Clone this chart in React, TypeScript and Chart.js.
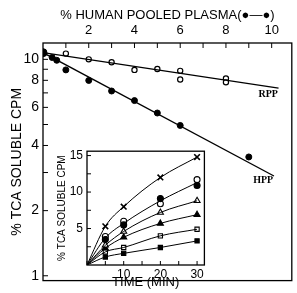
import React, { useEffect, useRef } from "react";
import { Chart, registerables } from "chart.js";
Chart.register(...registerables);

// ---- main plot data ----
const plasmaTicks = [1, 2, 3, 4, 5, 6, 7, 8, 9, 10];
const plasmaLabels = [2, 4, 6, 8, 10];
const cpmTicks = [1, 2, 3, 4, 5, 6, 7, 8, 9, 10];
const cpmLabels = [1, 2, 4, 6, 8, 10];

const rppX = [0, 1, 2, 3, 4, 5, 6, 6, 8, 8];
const rppY = [10.74, 10.63, 10.0, 9.7, 8.94, 9.03, 8.85, 8.07, 8.16, 7.83];
const hppX = [0, 0.4, 0.6, 1, 2, 3, 4, 5, 6, 9];
const hppY = [10.74, 10.2, 9.9, 8.94, 7.99, 7.14, 6.45, 5.65, 4.95, 3.54];
const rppFitX = [0, 10.3];
const rppFitY = [10.74, 7.37];
const hppFitX = [0, 10.1];
const hppFitY = [10.74, 2.89];

const seriesNames = ["RPP", "HPP"];
const seriesNameX = [9.85, 9.63];
const seriesNameY = [6.86, 2.77];

// ---- inset data ----
const timeMin = [0, 5, 10, 20, 30];
const crossVals = [0, 5.3, 8.0, 12.0, 14.8];
const openCircleVals = [0, 3.9, 6.0, 8.4, 11.7];
const filledCircleVals = [0, 3.5, 5.5, 9.1, 10.9];
const circleCurve = [0, 3.7, 5.7, 8.8, 11.3];
const openTriVals = [0, 2.7, 4.6, 7.2, 8.8];
const filledTriVals = [0, 2.3, 3.8, 5.7, 6.9];
const openSqVals = [0, 1.8, 2.4, 4.0, 4.9];
const filledSqVals = [0, 1.1, 1.6, 2.4, 3.3];
const timeTicks = [0, 5, 10, 15, 20, 25, 30];
const timeLabels = [10, 20, 30];
const insetTicks = [2.5, 5, 7.5, 10, 12.5, 15];
const insetLabels = [5, 10, 15];

const FONT = "'Liberation Sans', Arial, sans-serif";
const SERIF = "'Liberation Serif', 'Times New Roman', serif";

const zip = (xs: number[], ys: number[]) => xs.map((x, i) => ({ x, y: ys[i] }));

function frameAndTicks(len: number) {
  return {
    id: "frameAndTicks",
    afterDatasetsDraw(chart: any) {
      const ctx = chart.ctx;
      const a = chart.chartArea;
      ctx.save();
      ctx.strokeStyle = "#000";
      ctx.lineWidth = 1.3;
      ctx.strokeRect(a.left, a.top, a.right - a.left, a.bottom - a.top);
      ctx.lineWidth = 1;
      Object.values(chart.scales).forEach((s: any) => {
        s.ticks.forEach((t: any) => {
          const p = s.getPixelForValue(t.value);
          ctx.beginPath();
          if (s.position === "top") {
            ctx.moveTo(p, a.top);
            ctx.lineTo(p, a.top + len);
          } else if (s.position === "bottom") {
            ctx.moveTo(p, a.bottom);
            ctx.lineTo(p, a.bottom - len);
          } else {
            ctx.moveTo(a.left, p);
            ctx.lineTo(a.left + len, p);
          }
          ctx.stroke();
        });
      });
      ctx.restore();
    },
  };
}

const seriesLabelPlugin = {
  id: "seriesLabels",
  afterDatasetsDraw(chart: any) {
    const ctx = chart.ctx;
    const xs = chart.scales.x;
    const ys = chart.scales.y;
    ctx.save();
    ctx.fillStyle = "#000";
    ctx.font = "bold 10px " + SERIF;
    ctx.textAlign = "center";
    ctx.textBaseline = "middle";
    seriesNames.forEach((n, i) => {
      ctx.fillText(n, xs.getPixelForValue(seriesNameX[i]), ys.getPixelForValue(seriesNameY[i]));
    });
    ctx.restore();
  },
};

const whiteArea = {
  id: "whiteArea",
  beforeDatasetsDraw(chart: any) {
    const a = chart.chartArea;
    chart.ctx.save();
    chart.ctx.fillStyle = "#fff";
    chart.ctx.fillRect(a.left, a.top, a.right - a.left, a.bottom - a.top);
    chart.ctx.restore();
  },
};

export default function App() {
  const mainRef = useRef<HTMLCanvasElement>(null);
  const insetRef = useRef<HTMLCanvasElement>(null);

  useEffect(() => {
    const main = new Chart(mainRef.current!, {
      type: "scatter",
      data: {
        datasets: [
          {
            type: "line",
            data: zip(rppFitX, rppFitY),
            borderColor: "#000",
            borderWidth: 1.3,
            pointRadius: 0,
            showLine: true,
          } as any,
          {
            type: "line",
            data: zip(hppFitX, hppFitY),
            borderColor: "#000",
            borderWidth: 1.3,
            pointRadius: 0,
            showLine: true,
          } as any,
          {
            data: zip(hppX, hppY),
            pointStyle: "circle",
            pointRadius: hppX.map((x) => (x === 0 ? 4 : 3)),
            backgroundColor: "#000",
            borderColor: "#000",
            borderWidth: 1,
          },
          {
            data: zip(rppX.slice(1), rppY.slice(1)),
            pointStyle: "circle",
            pointRadius: 2.6,
            backgroundColor: "#fff",
            borderColor: "#000",
            borderWidth: 1.2,
          },
        ],
      },
      options: {
        animation: false,
        responsive: false,
        events: [],
        layout: { padding: { left: 0, top: 0, right: 1, bottom: 2 } },
        plugins: { legend: { display: false }, tooltip: { enabled: false } },
        scales: {
          x: {
            type: "linear",
            position: "top",
            min: 0,
            max: 10.88,
            afterBuildTicks: (s: any) => {
              s.ticks = plasmaTicks.map((v) => ({ value: v }));
            },
            afterFit: (s: any) => {
              s.height = 43;
            },
            grid: { display: false, drawTicks: false },
            border: { display: false },
            ticks: {
              autoSkip: false,
              maxRotation: 0,
              padding: 5,
              color: "#000",
              font: { size: 13, family: FONT },
              callback: (v: any) => (plasmaLabels.includes(Number(v)) ? String(v) : ""),
            },
            title: {
              display: true,
              text: "% HUMAN POOLED PLASMA(●—●)",
              color: "#000",
              font: { size: 13, family: FONT },
              padding: { top: 8, bottom: 0 },
            },
          },
          y: {
            type: "logarithmic",
            min: 0.95,
            max: 11.9,
            afterBuildTicks: (s: any) => {
              s.ticks = cpmTicks.map((v) => ({ value: v }));
            },
            afterFit: (s: any) => {
              s.width = 43;
            },
            grid: { display: false, drawTicks: false },
            border: { display: false },
            ticks: {
              autoSkip: false,
              padding: 4,
              color: "#000",
              font: { size: 14, family: FONT },
              callback: (v: any) => (cpmLabels.includes(Number(v)) ? String(v) : ""),
            },
            title: {
              display: true,
              text: "% TCA SOLUBLE CPM",
              color: "#000",
              font: { size: 14, family: FONT },
              padding: { top: 9, bottom: 0 },
            },
          },
        },
      },
      plugins: [frameAndTicks(5), seriesLabelPlugin],
    } as any);

    const curve = (vals: number[]) => ({
      type: "line",
      data: zip(timeMin, vals),
      borderColor: "#000",
      borderWidth: 1,
      pointRadius: 0,
      showLine: true,
      cubicInterpolationMode: "monotone",
    });
    const marks = (vals: number[], style: string, filled: boolean, r = 3) => ({
      data: zip(timeMin.slice(1), vals.slice(1)),
      pointStyle: style,
      pointRadius: r,
      backgroundColor: filled ? "#000" : "#fff",
      borderColor: "#000",
      borderWidth: style === "crossRot" ? 1.6 : 1.1,
    });

    const inset = new Chart(insetRef.current!, {
      type: "scatter",
      data: {
        datasets: [
          curve(crossVals),
          curve(circleCurve),
          curve(openTriVals),
          curve(filledTriVals),
          curve(openSqVals),
          curve(filledSqVals),
          marks(crossVals, "crossRot", true, 4),
          marks(filledCircleVals, "circle", true),
          marks(openCircleVals, "circle", false),
          marks(openTriVals, "triangle", false, 3.5),
          marks(filledTriVals, "triangle", true, 3.5),
          marks(openSqVals, "rect", false, 3),
          marks(filledSqVals, "rect", true, 3),
        ] as any,
      },
      options: {
        animation: false,
        responsive: false,
        events: [],
        layout: { padding: { left: 0, top: 8, right: 5, bottom: 0 } },
        plugins: { legend: { display: false }, tooltip: { enabled: false } },
        scales: {
          x: {
            type: "linear",
            position: "bottom",
            min: 0,
            max: 32,
            afterBuildTicks: (s: any) => {
              s.ticks = timeTicks.map((v) => ({ value: v }));
            },
            afterFit: (s: any) => {
              s.height = 28;
            },
            grid: { display: false, drawTicks: false },
            border: { display: false },
            ticks: {
              autoSkip: false,
              maxRotation: 0,
              padding: 2,
              color: "#000",
              font: { size: 12, family: FONT },
              callback: (v: any) => (timeLabels.includes(Number(v)) ? String(v) : ""),
            },
            title: {
              display: true,
              text: "TIME (MIN)",
              color: "#000",
              font: { size: 13, family: FONT },
              padding: { top: 0, bottom: 3 },
            },
          },
          y: {
            type: "linear",
            min: 0,
            max: 15.6,
            afterBuildTicks: (s: any) => {
              s.ticks = insetTicks.map((v) => ({ value: v }));
            },
            afterFit: (s: any) => {
              s.width = 37;
            },
            grid: { display: false, drawTicks: false },
            border: { display: false },
            ticks: {
              autoSkip: false,
              padding: 4,
              color: "#000",
              font: { size: 12, family: FONT },
              callback: (v: any) => (insetLabels.includes(Number(v)) ? String(v) : ""),
            },
            title: {
              display: true,
              text: "% TCA SOLUBLE CPM",
              color: "#000",
              font: { size: 10, family: FONT },
              padding: { top: 6, bottom: 0 },
            },
          },
        },
      },
      plugins: [whiteArea, frameAndTicks(4)],
    } as any);

    return () => {
      main.destroy();
      inset.destroy();
    };
  }, []);

  return (
    <div
      style={{
        position: "fixed",
        left: 0,
        top: 0,
        width: 297,
        height: 293,
        background: "#fff",
        overflow: "hidden",
      }}
    >
      <canvas
        ref={mainRef}
        width={297}
        height={293}
        style={{ position: "absolute", left: 0, top: 0 }}
      />
      <canvas
        ref={insetRef}
        width={160}
        height={153}
        style={{ position: "absolute", left: 50, top: 140 }}
      />
    </div>
  );
}
